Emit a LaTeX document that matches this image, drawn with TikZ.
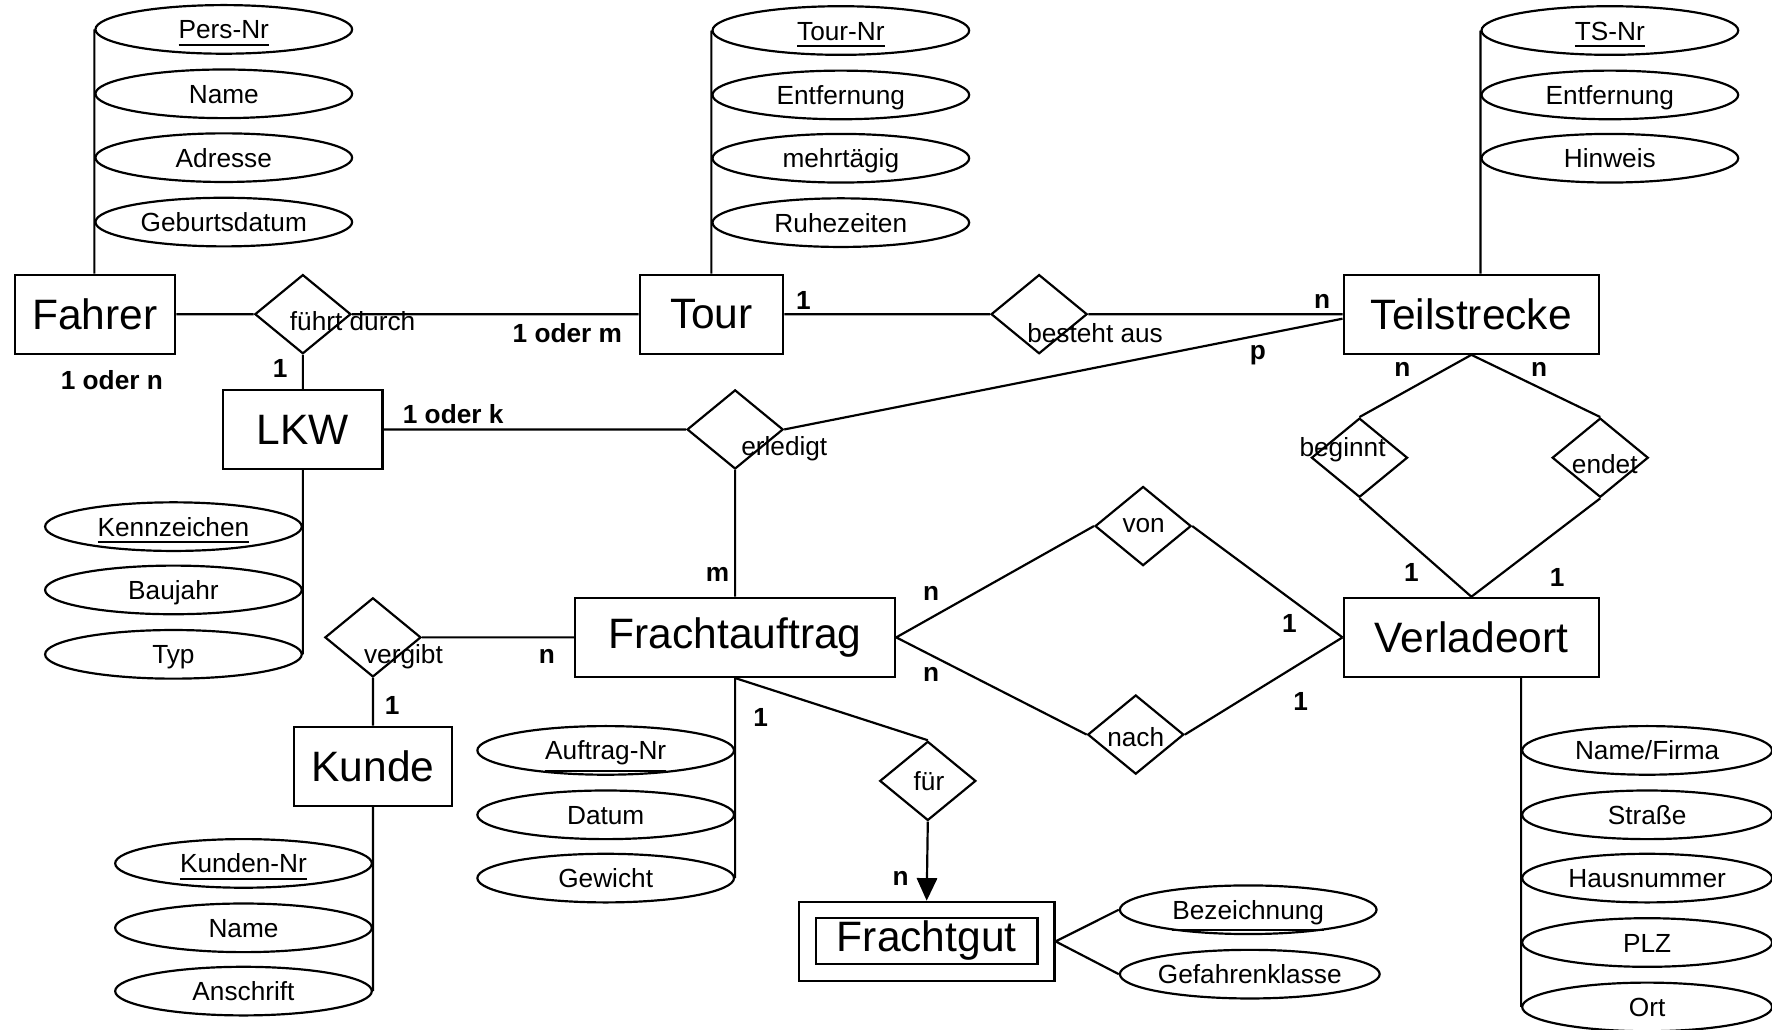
\documentclass[tikz,border=0pt]{standalone}
\usepackage{fontspec}
\setmainfont{Liberation Sans}
\usepackage{tikz}
\usetikzlibrary{shapes.geometric, arrows.meta, positioning}

\begin{document}
\begin{tikzpicture}[x=0.01cm, y=-0.01cm, line width=0.55pt]
    \tikzstyle{entity}=[shape=rectangle,draw,fill=white,minimum width=1.42cm,minimum height=0.7cm,font=\fontsize{10.7}{12}\selectfont]
    \tikzstyle{relation}=[shape=diamond,draw,fill=white,inner sep=0pt,minimum width=0.85cm,minimum height=0.7cm]
    \tikzstyle{attrib}=[shape=ellipse,draw,fill=white,inner sep=0pt,minimum width=2.27cm,minimum height=0.43cm,text height=6.4pt,text depth=1.6pt,font=\fontsize{6.6}{8}\selectfont]
    \tikzstyle{rlabel}=[inner sep=0pt,font=\fontsize{6.6}{8}\selectfont]
    \tikzstyle{card}=[inner sep=0pt,font=\bfseries\fontsize{6.6}{8}\selectfont]

    \useasboundingbox (0,0) rectangle (1568,911);

    % entities
    \node[entity] (fahrer) at (84,278) {Fahrer};
    \node[entity, minimum width=1.27cm] (tour) at (629.5,278) {Tour};
    \node[entity, minimum width=2.26cm] (teil) at (1302,278) {Teilstrecke};
    \node[entity, minimum width=1.41cm] (lkw) at (268,380) {LKW};
    \node[entity, minimum width=2.83cm] (auftrag) at (650.5,564) {Frachtauftrag};
    \node[entity, minimum width=2.26cm] (verlade) at (1302,564) {Verladeort};
    \node[entity, minimum width=1.40cm] (kunde) at (330,678) {Kunde};
    \node[entity, minimum width=2.26cm] (gutbox) at (820,833) {};
    \node[entity, minimum width=1.96cm, minimum height=0.41cm, inner sep=0pt] (gut) at (820,832.5) {Frachtgut};

    % relationships
    \node[relation] (fuehrt) at (268,278) {};
    \node[relation] (besteht) at (919.5,278) {};
    \node[relation] (erledigt) at (650.5,380) {};
    \node[relation] (vergibt) at (330,564) {};
    \node[relation] (von) at (1011.5,465.5) {};
    \node[relation] (nach) at (1005,650) {};
    \node[relation] (fuer) at (821,691) {};
    \node[relation] (beginnt) at (1203,405) {};
    \node[relation] (endet) at (1416,405) {};

    \node[rlabel] (fuehrtL) at (312,284) {führt durch};
    \node[rlabel] (bestehtL) at (969,295) {besteht aus};
    \node[rlabel] (erledigtL) at (694,397) {erledigt};
    \node[rlabel] (vergibtL) at (357,581) {vergibt};
    \node[rlabel] (vonL) at (1012,465) {von};
    \node[rlabel] (nachL) at (1005,652) {nach};
    \node[rlabel] (fuerL) at (822,691) {für};
    \node[rlabel] (beginntL) at (1188,398) {beginnt};
    \node[rlabel] (endetL) at (1420,411) {endet};

    % attributes
    \node[attrib, anchor=west] (persnr) at (83.5,26) {\underline{Pers-Nr}};
    \node[attrib, anchor=west] (fname) at (83.5,83) {Name};
    \node[attrib, anchor=west] (fadresse) at (83.5,139.5) {Adresse};
    \node[attrib, anchor=west] (fgeb) at (83.5,196.5) {Geburtsdatum};

    \node[attrib, anchor=west] (tournr) at (629.5,27) {\underline{Tour-Nr}};
    \node[attrib, anchor=west] (tentf) at (629.5,84) {Entfernung};
    \node[attrib, anchor=west] (tmehr) at (629.5,140) {mehrtägig};
    \node[attrib, anchor=west] (truhe) at (629.5,197) {Ruhezeiten};

    \node[attrib, anchor=west] (tsnr) at (1310,27) {\underline{TS-Nr}};
    \node[attrib, anchor=west] (sentf) at (1310,84) {Entfernung};
    \node[attrib, anchor=west] (shinw) at (1310,140) {Hinweis};

    \node[attrib, anchor=east] (kennz) at (268,466) {\underline{Kennzeichen}};
    \node[attrib, anchor=east] (baujahr) at (268,522) {Baujahr};
    \node[attrib, anchor=east] (typ) at (268,579) {Typ};

    \node[attrib, anchor=east] (auftrnr) at (650.5,664) {\underline{Auftrag-Nr}};
    \node[attrib, anchor=east] (datum) at (650.5,721) {Datum};
    \node[attrib, anchor=east] (gewicht) at (650.5,777) {Gewicht};

    \node[attrib, anchor=east] (kundnr) at (330,764) {\underline{Kunden-Nr}};
    \node[attrib, anchor=east] (kname) at (330,821) {Name};
    \node[attrib, anchor=east] (anschrift) at (330,877) {Anschrift};

    \node[attrib, anchor=west, minimum width=2.21cm] (vfirma) at (1346,664) {Name/Firma};
    \node[attrib, anchor=west, minimum width=2.21cm] (vstr) at (1346,721) {Straße};
    \node[attrib, anchor=west, minimum width=2.21cm] (vhaus) at (1346,777) {Hausnummer};
    \node[attrib, anchor=west, minimum width=2.21cm] (vplz) at (1346,834) {PLZ};
    \node[attrib, anchor=west, minimum width=2.21cm] (vort) at (1346,891) {Ort};

    \node[attrib, anchor=west] (bez) at (990,805) {\underline{Bezeichnung}};
    \node[attrib, anchor=west] (gefahr) at (990,862) {Gefahrenklasse};

    % cardinalities
    \node[card] (k1) at (99,336) {1 oder n};
    \node[card] (k2) at (248,326) {1};
    \node[card] (k3) at (502,295) {1 oder m};
    \node[card] (k4) at (711,266) {1};
    \node[card] (k5) at (1170,267) {n};
    \node[card] (k6) at (1113,314) {p};
    \node[card] (k7) at (401,366) {1 oder k};
    \node[card] (k8) at (635,508) {m};
    \node[card] (k9) at (484,581) {n};
    \node[card] (k10) at (347,624) {1};
    \node[card] (k11) at (673,635) {1};
    \node[card] (k12) at (797,777) {n};
    \node[card] (k13) at (824,525) {n};
    \node[card] (k14) at (824,597) {n};
    \node[card] (k15) at (1141,552) {1};
    \node[card] (k16) at (1151,621) {1};
    \node[card] (k17) at (1241,327) {n};
    \node[card] (k18) at (1362,327) {n};
    \node[card] (k19) at (1249,507) {1};
    \node[card] (k20) at (1378,511) {1};

    \path[draw]
    (fahrer.east) -- (fuehrt.west)
    (fuehrt.east) -- (tour.west)
    (fuehrt.south) -- (lkw.north)
    (tour.east) -- (besteht.west)
    (besteht.east) -- (teil.west)
    (lkw.east) -- (erledigt.west)
    (erledigt.east) -- ([yshift=-0.04cm]teil.west)
    (erledigt.south) -- (auftrag.north)
    (vergibt.east) -- (auftrag.west)
    (vergibt.south) -- (kunde.north)
    (auftrag.east) -- (von.west)
    (von.east) -- (verlade.west)
    (auftrag.east) -- (nach.west)
    (nach.east) -- (verlade.west)
    (auftrag.south) -- (fuer.north)
    (teil.south) -- (beginnt.north)
    (teil.south) -- (endet.north)
    (beginnt.south) -- (verlade.north)
    (endet.south) -- (verlade.north)

    (persnr.west) -- (persnr.west |- fahrer.north)
    (tournr.west) -- (tournr.west |- tour.north)
    (tsnr.west) -- (tsnr.west |- teil.north)
    (lkw.south) -- (typ.east)
    (auftrag.south) -- (gewicht.east)
    (kunde.south) -- (anschrift.east)
    (vort.west |- verlade.south) -- (vort.west)
    (gutbox.east) -- (bez.west)
    (gutbox.east) -- (gefahr.west)
    ;

    \draw[-{Triangle[length=0.2cm,width=0.18cm]}] (fuer.south) -- (gutbox.north);

\end{tikzpicture}
\end{document}
